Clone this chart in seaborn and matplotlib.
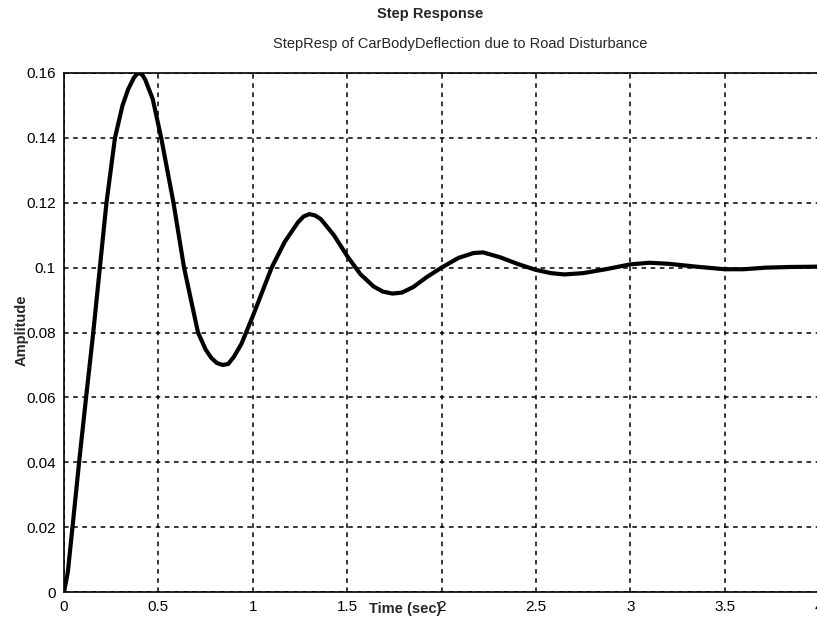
import matplotlib
matplotlib.use("Agg")
import matplotlib.pyplot as plt
import seaborn as sns
import pandas as pd

time_sec = [0.00, 0.02, 0.045, 0.08, 0.117, 0.155, 0.19, 0.225, 0.27, 0.31, 0.34, 0.37, 0.385,
            0.40, 0.415, 0.43, 0.47, 0.515, 0.58, 0.636, 0.71, 0.75, 0.78, 0.81, 0.84, 0.87, 0.90, 0.94,
            1.00, 1.10, 1.17, 1.24, 1.27, 1.30, 1.33, 1.36, 1.43, 1.50, 1.57, 1.64, 1.69, 1.74, 1.79,
            1.85, 1.92, 2.00, 2.09, 2.17, 2.22, 2.31, 2.41, 2.50, 2.58, 2.65, 2.75,
            2.87, 3.00, 3.10, 3.20, 3.35, 3.50, 3.60, 3.72, 3.85, 4.00]
amplitude = [0.000, 0.006, 0.020, 0.040, 0.060, 0.080, 0.100, 0.120, 0.140, 0.150, 0.155, 0.1585, 0.1596,
             0.1600, 0.1594, 0.158, 0.152, 0.140, 0.120, 0.100, 0.080, 0.0748, 0.0722, 0.0706, 0.0700, 0.0703, 0.0725, 0.0765,
             0.0850, 0.1000, 0.1080, 0.1140, 0.1158, 0.1165, 0.1161, 0.1150, 0.1100, 0.1036, 0.0980, 0.0942, 0.0926, 0.0920, 0.0923,
             0.0940, 0.0970, 0.1000, 0.1030, 0.1045, 0.1047, 0.1032, 0.1010, 0.0993, 0.0983, 0.0979, 0.0983,
             0.0995, 0.1010, 0.1015, 0.1012, 0.1003, 0.0995, 0.0995, 0.1000, 0.1002, 0.1003]

x_ticks = [0, 0.5, 1, 1.5, 2, 2.5, 3, 3.5, 4]
x_tick_labels = ["0", "0.5", "1", "1.5", "2", "2.5", "3", "3.5", "4"]
y_ticks = [0, 0.02, 0.04, 0.06, 0.08, 0.1, 0.12, 0.14, 0.16]
y_tick_labels = ["0", "0.02", "0.04", "0.06", "0.08", "0.1", "0.12", "0.14", "0.16"]

title = "Step Response"
subtitle = "StepResp of CarBodyDeflection due to Road Disturbance"
x_label = "Time (sec)"
y_label = "Amplitude"

sns.set_style("white")
plt.rcParams["font.family"] = ["Liberation Sans", "DejaVu Sans"]

df = pd.DataFrame({"t": time_sec, "y": amplitude})

fig = plt.figure(figsize=(8.17, 6.23), dpi=100)
ax = fig.add_axes([64 / 817, 1 - 592 / 623, 755 / 817, 519 / 623])

sns.lineplot(data=df, x="t", y="y", ax=ax, color="black", linewidth=3.0, sort=False)

ax.set_xlim(0, 4)
ax.set_ylim(0, 0.16)
ax.set_xticks(x_ticks)
ax.set_xticklabels(x_tick_labels, fontsize=11)
ax.set_yticks(y_ticks)
ax.set_yticklabels(y_tick_labels, fontsize=11)
ax.tick_params(axis="both", direction="in", length=0, pad=6, colors="black")
ax.set_xlabel("")
ax.set_ylabel("")

ax.grid(True, color="black", linestyle=(0, (3, 3)), linewidth=1.1)
for side in ["left", "bottom", "top", "right"]:
    ax.spines[side].set_color("black")
    ax.spines[side].set_linewidth(1.2)

fig.text(430 / 817, 1 - 14 / 623, title, ha="center", va="center", fontsize=10.5, fontweight="bold")
fig.text(460 / 817, 1 - 44 / 623, subtitle, ha="center", va="center", fontsize=10.5)
fig.text(405 / 817, 1 - 609 / 623, x_label, ha="center", va="center", fontsize=10.5, fontweight="bold")
fig.text(22 / 817, 1 - 330 / 623, y_label, ha="center", va="center", rotation=90, fontsize=10.5, fontweight="bold")

fig.savefig("out.png", dpi=100, facecolor="white")
